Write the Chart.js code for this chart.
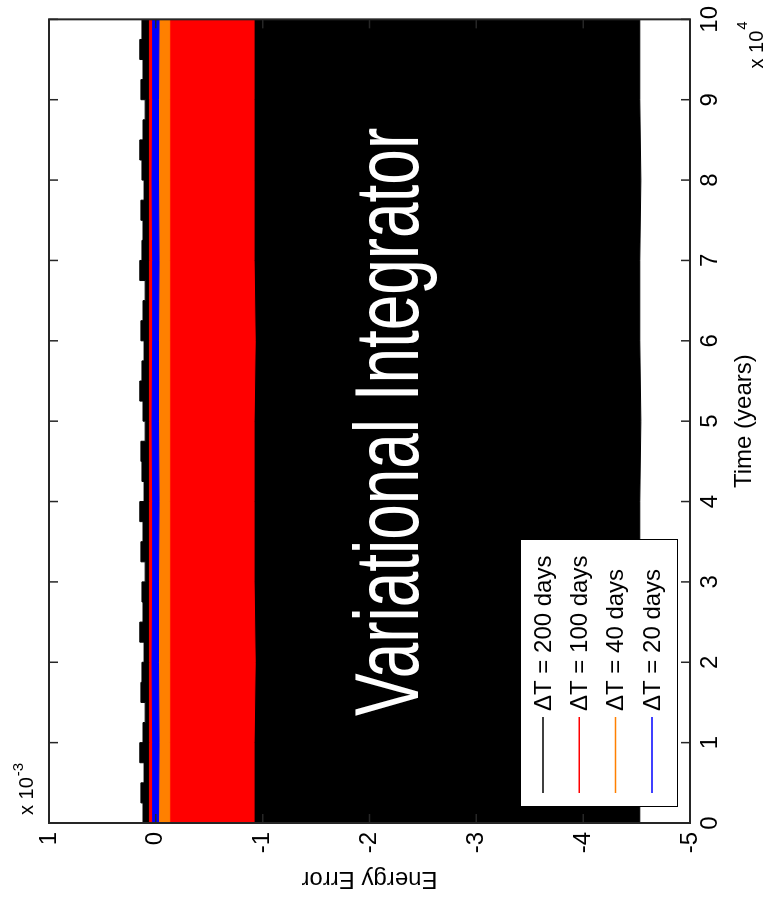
<!DOCTYPE html>
<html>
<head>
<meta charset="utf-8">
<script src="https://cdn.jsdelivr.net/npm/chart.js@4.4.0/dist/chart.umd.min.js"></script>
<style>
  html, body { margin: 0; padding: 0; overflow: hidden; background: #fff; width: 766px; height: 903px; }
  /* the figure is drawn landscape, then turned a quarter turn counter-clockwise */
  #wrap { position: absolute; left: 0; top: 0; width: 903px; height: 766px;
          transform-origin: 0 0; transform: translate(0, 903px) rotate(-90deg); }
</style>
</head>
<body>
<div id="wrap"><canvas id="energyChart"></canvas></div>
<script>
  // time in units of 10^4 years, energy error in units of 10^-3
  const timeTicks = [0, 1, 2, 3, 4, 5, 6, 7, 8, 9, 10];
  const errorTicks = [1, 0, -1, -2, -3, -4, -5];
  const seriesLabels = ['ΔT = 200 days', 'ΔT = 100 days', 'ΔT = 40 days', 'ΔT = 20 days'];
  const seriesColors = ['#000000', '#ff0000', '#ff8000', '#0000ff'];

  // envelope of each oscillating error signal (max / min over time)
  const jaggedTime = [0, 0.25, 0.5, 0.75, 1, 1.25, 1.5, 1.75, 2, 2.25, 2.5, 2.75, 3, 3.25, 3.5, 3.75, 4, 4.25, 4.5, 4.75,
                      5, 5.25, 5.5, 5.75, 6, 6.25, 6.5, 6.75, 7, 7.25, 7.5, 7.75, 8, 8.25, 8.5, 8.75, 9, 9.25, 9.5, 9.75, 10];
  const dt200Max = [0.12, 0.14, 0.11, 0.15, 0.12, 0.10, 0.14, 0.13, 0.11, 0.15, 0.12, 0.13, 0.10, 0.14, 0.12, 0.15, 0.11, 0.13, 0.14, 0.10,
                    0.12, 0.15, 0.13, 0.11, 0.14, 0.12, 0.10, 0.15, 0.13, 0.12, 0.14, 0.11, 0.13, 0.15, 0.12, 0.10, 0.14, 0.12, 0.15, 0.13, 0.12];
  const dt200Min = [-4.53, -4.53, -4.54, -4.53, -4.53, -4.54, -4.53, -4.53, -4.54, -4.53, -4.53];
  const dt100Max = [0.06, 0.06, 0.06, 0.06, 0.06, 0.06, 0.06, 0.06, 0.06, 0.06, 0.06];
  const dt100Min = [-0.92, -0.92, -0.93, -0.92, -0.92, -0.92, -0.93, -0.92, -0.92, -0.92, -0.92];
  const dt40Max = [0.02, 0.02, 0.02, 0.02, 0.02, 0.02, 0.02, 0.02, 0.02, 0.02, 0.02];
  const dt40Min = [-0.13, -0.13, -0.13, -0.13, -0.13, -0.13, -0.13, -0.13, -0.13, -0.13, -0.13];
  const dt20Max = [0.03, 0.03, 0.035, 0.03, 0.03, 0.035, 0.03, 0.03, 0.035, 0.03, 0.03];
  const dt20Min = [-0.025, -0.03, -0.025, -0.025, -0.03, -0.025, -0.025, -0.03, -0.025, -0.025, -0.03];

  const FONT = '"Liberation Sans", Arial, sans-serif';

  function pts(xs, ys) {
    return ys.map((y, i) => ({ x: xs[i], y: y }));
  }

  // each series is a filled band: upper edge fills down to its lower edge
  function band(label, color, xsMax, max, xsMin, min, stepped) {
    return [
      { label: label, data: pts(xsMax, max), borderColor: color, backgroundColor: color,
        borderWidth: 1, pointRadius: 0, fill: '+1', stepped: stepped },
      { label: label + ' min', data: pts(xsMin, min), borderColor: color, backgroundColor: color,
        borderWidth: 1, pointRadius: 0, fill: false }
    ];
  }

  // first datasets are drawn on top, so blue goes first
  const datasets = [].concat(
    band(seriesLabels[3], seriesColors[3], timeTicks, dt20Max, timeTicks, dt20Min, false),
    band(seriesLabels[2], seriesColors[2], timeTicks, dt40Max, timeTicks, dt40Min, false),
    band(seriesLabels[1], seriesColors[1], timeTicks, dt100Max, timeTicks, dt100Min, false),
    band(seriesLabels[0], seriesColors[0], jaggedTime, dt200Max, timeTicks, dt200Min, true)
  );

  // box, inward tick marks, exponent labels, annotation and legend
  const matlabFrame = {
    id: 'matlabFrame',
    afterDraw(chart) {
      const ctx = chart.ctx;
      const a = chart.chartArea;
      const xs = chart.scales.x;
      const ys = chart.scales.y;

      // annotation text
      ctx.save();
      ctx.fillStyle = '#ffffff';
      ctx.font = '90px ' + FONT;
      ctx.textBaseline = 'alphabetic';
      const tx0 = xs.getPixelForValue(1.33);
      const tx1 = xs.getPixelForValue(8.65);
      ctx.fillText('Variational Integrator', tx0, ys.getPixelForValue(-2.45), tx1 - tx0);
      ctx.restore();

      // frame
      ctx.save();
      ctx.strokeStyle = '#262626';
      ctx.lineWidth = 2;
      ctx.strokeRect(a.left, a.top, a.right - a.left, a.bottom - a.top);
      ctx.lineWidth = 1.5;
      ctx.beginPath();
      const tl = 9;
      timeTicks.forEach(t => {
        const px = xs.getPixelForValue(t);
        ctx.moveTo(px, a.bottom); ctx.lineTo(px, a.bottom - tl);
        ctx.moveTo(px, a.top); ctx.lineTo(px, a.top + tl);
      });
      errorTicks.forEach(e => {
        const py = ys.getPixelForValue(e);
        ctx.moveTo(a.left, py); ctx.lineTo(a.left + tl, py);
        ctx.moveTo(a.right, py); ctx.lineTo(a.right - tl, py);
      });
      ctx.stroke();
      ctx.restore();

      // exponent labels
      ctx.save();
      ctx.fillStyle = '#000';
      ctx.textBaseline = 'alphabetic';
      ctx.textAlign = 'left';
      ctx.font = '20px ' + FONT;
      let x = a.left + 8;
      let y = a.top - 16;
      ctx.fillText('x 10', x, y);
      x += ctx.measureText('x 10').width + 1;
      ctx.font = '15px ' + FONT;
      ctx.fillText('-3', x, y - 10);

      ctx.font = '15px ' + FONT;
      const supW = ctx.measureText('4').width;
      ctx.font = '20px ' + FONT;
      const baseW = ctx.measureText('x 10').width;
      x = a.right - 2 - supW - 1 - baseW;
      y = a.bottom + 73;
      ctx.fillText('x 10', x, y);
      ctx.font = '15px ' + FONT;
      ctx.fillText('4', x + baseW + 1, y - 16);
      ctx.restore();

      // legend, in the lower-left corner of the axes
      ctx.save();
      const lx = a.left + 16;
      const lw = 267;
      const lh = 157;
      const ly = a.bottom - 13 - lh;
      ctx.fillStyle = '#fff';
      ctx.fillRect(lx, ly, lw, lh);
      ctx.strokeStyle = '#000';
      ctx.lineWidth = 1;
      ctx.strokeRect(lx + 0.5, ly + 0.5, lw, lh);
      ctx.font = '24px ' + FONT;
      ctx.textBaseline = 'middle';
      ctx.fillStyle = '#000';
      seriesLabels.forEach((lab, i) => {
        const yy = ly + 23 + i * 36.3;
        ctx.strokeStyle = seriesColors[i];
        ctx.lineWidth = 1.5;
        ctx.beginPath();
        ctx.moveTo(lx + 14, yy);
        ctx.lineTo(lx + 90, yy);
        ctx.stroke();
        ctx.fillText(lab, lx + 96, yy + 1);
      });
      ctx.restore();
    }
  };

  new Chart(document.getElementById('energyChart'), {
    type: 'line',
    data: { datasets: datasets },
    options: {
      responsive: true,
      maintainAspectRatio: false,
      animation: false,
      layout: { padding: { top: 49, right: 10, left: 0, bottom: 0 } },
      plugins: {
        legend: { display: false },
        tooltip: { enabled: false }
      },
      elements: { line: { tension: 0 } },
      scales: {
        x: {
          type: 'linear',
          position: 'bottom',
          min: 0,
          max: 10,
          afterBuildTicks: s => { s.ticks = timeTicks.map(v => ({ value: v })); },
          afterFit: s => { s.height = 76; },
          grid: { display: false, drawTicks: false },
          border: { display: false },
          ticks: { color: '#000', padding: 6, font: { family: FONT, size: 24 }, callback: v => String(v) },
          title: { display: true, text: 'Time (years)', color: '#000',
                   font: { family: FONT, size: 24 }, padding: { top: 0, bottom: 7 } }
        },
        y: {
          type: 'linear',
          min: -5,
          max: 1,
          afterBuildTicks: s => { s.ticks = errorTicks.map(v => ({ value: v })); },
          afterFit: s => { s.width = 80; },
          grid: { display: false, drawTicks: false },
          border: { display: false },
          ticks: { color: '#000', padding: 9, font: { family: FONT, size: 24 }, callback: v => String(v) },
          title: { display: true, text: 'Energy Error', color: '#000',
                   font: { family: FONT, size: 24 }, padding: { top: 10, bottom: 0 } }
        }
      }
    },
    plugins: [matlabFrame]
  });
</script>
</body>
</html>
